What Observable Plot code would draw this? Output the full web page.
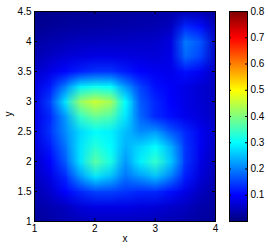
<!DOCTYPE html>
<html><head><meta charset="utf-8">
<script src="https://cdn.jsdelivr.net/npm/d3@7"></script>
<script src="https://cdn.jsdelivr.net/npm/@observablehq/plot@0.6"></script>
<style>
html,body{margin:0;padding:0;background:#fff;}
#chart{position:relative;width:268px;height:249px;}
#chart svg{position:absolute;top:0;overflow:visible;}
</style></head><body><div id="chart"></div>
<script>
// grid sample positions (data space)
const xGrid = [1, 1.25, 1.5, 1.75, 2, 2.25, 2.5, 2.75, 3, 3.25, 3.5, 3.75, 4];
const yGrid = [4.5, 4.25, 4, 3.75, 3.5, 3.25, 3, 2.75, 2.5, 2.25, 2, 1.75, 1.5, 1.25, 1];
// density values, one row per yGrid entry (top to bottom)
const density = [
  [0.010,0.012,0.015,0.018,0.020,0.022,0.025,0.028,0.030,0.035,0.045,0.040,0.025],
  [0.015,0.020,0.025,0.028,0.030,0.032,0.035,0.038,0.040,0.050,0.130,0.110,0.040],
  [0.030,0.038,0.045,0.050,0.052,0.055,0.055,0.058,0.060,0.075,0.195,0.165,0.050],
  [0.040,0.055,0.068,0.075,0.080,0.080,0.077,0.073,0.070,0.080,0.180,0.150,0.050],
  [0.060,0.080,0.105,0.125,0.140,0.140,0.120,0.100,0.090,0.085,0.110,0.090,0.050],
  [0.075,0.120,0.200,0.290,0.310,0.300,0.220,0.150,0.110,0.095,0.080,0.065,0.050],
  [0.080,0.150,0.280,0.420,0.460,0.430,0.300,0.170,0.130,0.100,0.080,0.065,0.050],
  [0.080,0.130,0.220,0.340,0.380,0.360,0.280,0.180,0.130,0.110,0.085,0.070,0.050],
  [0.080,0.140,0.210,0.270,0.300,0.290,0.250,0.210,0.220,0.170,0.130,0.090,0.060],
  [0.070,0.120,0.190,0.280,0.330,0.300,0.240,0.270,0.300,0.240,0.140,0.090,0.050],
  [0.060,0.100,0.170,0.280,0.370,0.320,0.220,0.290,0.340,0.260,0.140,0.080,0.045],
  [0.050,0.080,0.130,0.220,0.280,0.250,0.190,0.220,0.250,0.200,0.120,0.070,0.040],
  [0.040,0.060,0.100,0.130,0.150,0.150,0.140,0.130,0.130,0.110,0.080,0.050,0.030],
  [0.030,0.040,0.050,0.070,0.080,0.080,0.080,0.075,0.070,0.060,0.050,0.035,0.025],
  [0.020,0.030,0.040,0.045,0.050,0.050,0.050,0.048,0.045,0.040,0.035,0.025,0.020]
];
const xTicks = [1, 2, 3, 4];
const yTicks = [1, 1.5, 2, 2.5, 3, 3.5, 4, 4.5];
const cTicks = [0.1, 0.2, 0.3, 0.4, 0.5, 0.6, 0.7, 0.8];
const cDomain = [0, 0.8];
const jetStops = [0, 0.1, 0.3, 0.5, 0.7, 0.8];
const jetColors = ["#000080", "#0000ff", "#00ffff", "#ffff00", "#ff0000", "#800000"];

const font = "'Liberation Sans', Arial, Helvetica, sans-serif";
const colorOpts = {type: "linear", domain: jetStops, range: jetColors, interpolate: "rgb", clamp: true};

const H = 249, mTop = 11, mBottom = 28;
const frameH = H - mTop - mBottom;
const W1 = 222, mL1 = 34, mR1 = 7, frameW1 = W1 - mL1 - mR1;
const nx = xGrid.length, ny = yGrid.length;
const dxg = xGrid[1] - xGrid[0], dyg = yGrid[0] - yGrid[1];
const values = density.flat();

const main = Plot.plot({
  width: W1, height: H,
  marginLeft: mL1, marginRight: mR1, marginTop: mTop, marginBottom: mBottom,
  x: {domain: [xGrid[0], xGrid[nx - 1]]},
  y: {domain: [yGrid[ny - 1], yGrid[0]]},
  color: colorOpts,
  style: {fontFamily: font, fontSize: "10px", color: "#000", background: "transparent"},
  marks: [
    Plot.raster(values, {
      width: nx, height: ny,
      x1: xGrid[0] - dxg / 2, x2: xGrid[nx - 1] + dxg / 2,
      y1: yGrid[0] + dyg / 2, y2: yGrid[ny - 1] - dyg / 2,
      fill: d => d, clip: true
    }),
    Plot.frame({stroke: "#000"}),
    Plot.tickX(xTicks, {x: d => d, insetTop: frameH - 3, stroke: "#000"}),
    Plot.tickX(xTicks, {x: d => d, insetBottom: frameH - 3, stroke: "#000"}),
    Plot.tickY(yTicks, {y: d => d, insetRight: frameW1 - 3, stroke: "#000"}),
    Plot.tickY(yTicks, {y: d => d, insetLeft: frameW1 - 3, stroke: "#000"}),
    Plot.axisX({ticks: xTicks, tickSize: 0, tickPadding: 3, tickFormat: d => String(d), label: null}),
    Plot.axisY({ticks: yTicks, tickSize: 0, tickPadding: 3, tickFormat: d => String(d), label: null}),
    Plot.text(["x"], {text: d => d, frameAnchor: "bottom", dy: 20}),
    Plot.text(["y"], {text: d => d, frameAnchor: "left", dx: -26, rotate: -90})
  ]
});

const W2 = 268 - W1, mL2 = 7, mR2 = 21, barW = W2 - mL2 - mR2;
const bar = Plot.plot({
  width: W2, height: H,
  marginLeft: mL2, marginRight: mR2, marginTop: mTop, marginBottom: mBottom,
  x: {domain: [0, 1], axis: null},
  y: {domain: cDomain},
  color: colorOpts,
  style: {fontFamily: font, fontSize: "10px", color: "#000", background: "transparent"},
  marks: [
    Plot.raster({fill: (x, y) => y, x1: 0, x2: 1, y1: cDomain[0], y2: cDomain[1]}),
    Plot.frame({stroke: "#000"}),
    Plot.tickY(cTicks, {y: d => d, insetRight: barW - 2, stroke: "#000"}),
    Plot.tickY(cTicks, {y: d => d, insetLeft: barW - 2, stroke: "#000"}),
    Plot.axisY({ticks: cTicks, anchor: "right", tickSize: 0, tickPadding: 3, tickFormat: d => String(d), label: null})
  ]
});

const chart = document.getElementById("chart");
main.style.left = "0px";
bar.style.left = W1 + "px";
chart.appendChild(main);
chart.appendChild(bar);
</script>
</body></html>
